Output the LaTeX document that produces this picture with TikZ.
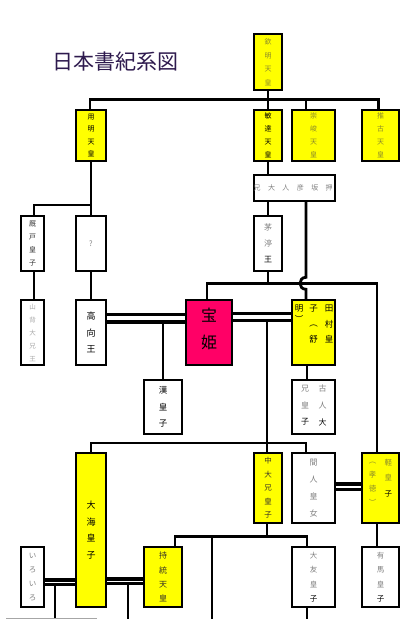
\documentclass[tikz,border=0pt]{standalone}
\usepackage{fontspec}
\setmainfont{Noto Sans CJK JP}
\usetikzlibrary{calc}
\definecolor{kiiro}{HTML}{FFFF00}
\definecolor{beni}{HTML}{FF0066}
\definecolor{tgray}{HTML}{808080}
\definecolor{tlight}{HTML}{A8A8A8}
\definecolor{tolive}{HTML}{8C8C2A}
\definecolor{ttitle}{HTML}{2E1A4E}
\newcommand{\fs}[2]{\fontsize{#1}{#2}\selectfont}
\begin{document}
\begin{tikzpicture}[x=1pt,y=-1pt,
  box/.style={draw=black, line width=1.3pt, inner sep=0pt, align=center, fill=white},
  ybox/.style={box, fill=kiiro},
  conn/.style={line width=2.8pt, draw=black},
  dbl/.style={line width=3.4pt, draw=black},
  vt/.style={inner sep=0pt, align=center}]
\useasboundingbox (0,0) rectangle (417,619);
\fill[white] (0,0) rectangle (417,619);

% title
\node[inner sep=0pt, text=ttitle, font=\fs{21}{24}] (title) at (115.5,62) {日本書紀系図};

% boxes
\node[ybox, minimum width=28pt, minimum height=56pt, text=tolive, font=\fs{7}{13.5}] (kinmei) at (268,62) {欽\\明\\天\\皇};
\node[ybox, minimum width=30pt, minimum height=51pt, font=\fs{7}{12.5}] (youmei) at (91,135.5) {用\\明\\天\\皇};
\node[ybox, minimum width=28pt, minimum height=51pt, font=\fs{7}{13}] (bidatsu) at (268,135.5) {敏\\達\\天\\皇};
\node[ybox, minimum width=43pt, minimum height=51pt, text=tolive, font=\fs{7}{13}] (sushun) at (313.5,135.5) {崇\\峻\\天\\皇};
\node[ybox, minimum width=37pt, minimum height=51pt, text=tolive, font=\fs{7}{13}] (suiko) at (380.5,135.5) {推\\古\\天\\皇};
\node[box, minimum width=81pt, minimum height=26pt] (oshisaka) at (294.5,188) {};
\node[inner sep=0pt, text=tgray, font=\fs{7}{9}] (oshisakaT) at (293.2,188) {\makebox[14.4pt]{兄}\makebox[14.4pt]{大}\makebox[14.4pt]{人}\makebox[14.4pt]{彦}\makebox[14.4pt]{坂}\makebox[14.4pt]{押}};
\node[box, minimum width=23pt, minimum height=55pt, text=black!80, font=\fs{7}{13.3}] (umayado) at (32.5,243.5) {厩\\戸\\皇\\子};
\node[box, minimum width=30pt, minimum height=55pt, text=tgray, font=\fs{7.5}{9}] (q) at (91,243.5) {?};
\node[box, minimum width=28pt, minimum height=55pt, font=\fs{8}{16}] (chinu) at (268,243.5) {\textcolor{tgray}{茅}\\\textcolor{tgray}{渟}\\王};
\node[box, minimum width=23pt, minimum height=65pt, text=tlight, font=\fs{6.5}{13}] (yamashiro) at (32.5,332.5) {山\\背\\大\\兄\\王};
\node[box, minimum width=30pt, minimum height=65pt, font=\fs{9}{16.3}] (takamuku) at (91,332.5) {高\\向\\王};
\node[box, fill=beni, minimum width=46pt, minimum height=65pt] (takara) at (209,332.5) {};
\node[vt, font=\fs{16}{27}] (takaraT) at (209,328.5) {宝\\姫};
\node[ybox, minimum width=43pt, minimum height=65pt] (tamura) at (313.5,332.5) {};
\node[vt, font=\fs{8.5}{15.3}] (tamuraR) at (329,324) {田\\村\\皇};
\node[vt, font=\fs{8.5}{15.3}] (tamuraM) at (313.5,324) {子\\︵\\舒};
\node[vt, font=\fs{8.5}{11}] (tamuraL) at (299,314) {明\\︶};
\node[box, minimum width=38pt, minimum height=54pt, font=\fs{8.5}{16.7}] (aya) at (163,407) {漢\\皇\\子};
\node[box, minimum width=43pt, minimum height=54pt] (furuhito) at (313.5,407) {};
\node[vt, font=\fs{8}{16.7}] (furuhitoR) at (322.7,405.3) {\textcolor{tgray}{古}\\\textcolor{tgray}{人}\\大};
\node[vt, font=\fs{8}{16.7}] (furuhitoL) at (305,405.3) {\textcolor{tgray}{兄}\\\textcolor{tgray}{皇}\\子};
\node[ybox, minimum width=30pt, minimum height=154pt, font=\fs{9}{16.7}] (ooama) at (91,530) {大\\海\\皇\\子};
\node[ybox, minimum width=28pt, minimum height=70pt, text=black!85!olive, font=\fs{7.5}{13.5}] (nakano) at (268,488) {中\\大\\兄\\皇\\子};
\node[box, minimum width=43pt, minimum height=70pt, text=tgray, font=\fs{8}{17}] (hashihito) at (313.5,488) {間\\人\\皇\\女};
\node[ybox, minimum width=37pt, minimum height=70pt] (karu) at (380.5,488) {};
\node[vt, text=tolive, font=\fs{7.5}{15.8}] (karuR) at (388.3,478) {軽\\皇\\\textcolor{black}{子}};
\node[vt, text=tolive, font=\fs{7.5}{14}] (karuL) at (372.7,484) {︵\\孝\\徳\\︶};
\node[box, minimum width=23pt, minimum height=60pt, text=tgray, font=\fs{7.5}{14}] (iroiro) at (32.5,577) {い\\ろ\\い\\ろ};
\node[ybox, minimum width=38pt, minimum height=60pt, text=black!85!olive, font=\fs{8}{14.2}] (jitou) at (163,577) {持\\統\\天\\皇};
\node[box, minimum width=43pt, minimum height=60pt, text=tgray, font=\fs{7.5}{14.4}] (ootomo) at (313.5,577) {大\\友\\皇\\\textcolor{black}{子}};
\node[box, minimum width=37pt, minimum height=60pt, text=tgray, font=\fs{7.5}{14.4}] (arima) at (380.5,577) {有\\馬\\皇\\\textcolor{black}{子}};

% junction coordinates
\coordinate (j1) at (268,99.5);
\coordinate (s1) at (306,99.5);
\coordinate (j2) at (91,205);
\coordinate (hp) at (306,283.3);
\coordinate (j3) at (268,283.3);
\coordinate (k1) at (377,283.3);
\coordinate (j4) at (267,443);
\coordinate (j5) at (267,536.7);
\coordinate (b1) at (212,619);
\coordinate (b2) at (307,619);
\coordinate (b3) at (55,619);
\coordinate (b4) at (128,619);

% connectors
\draw[conn] (kinmei.south) -- (j1);
\draw[conn] (youmei.north -| 90,0) |- (j1) -- (s1) -| (suiko.north -| 378.5,0);
\draw[conn] (j1) -- (bidatsu.north);
\draw[conn] (s1) -- (sushun.north -| s1);

\draw[conn] (youmei.south) -- (j2);
\draw[conn] (j2) -| (umayado.north -| 34,0);
\draw[conn] (j2) -- (q.north);
\draw[conn] (umayado.south -| 34,0) -- (yamashiro.north -| 34,0);
\draw[conn] (q.south) -- (takamuku.north);

\draw[conn] (bidatsu.south) -- (bidatsu.south |- oshisaka.north);
\draw[conn] (chinu.north |- oshisaka.south) -- (chinu.north);
\draw[conn] (oshisaka.south -| hp) -- ($(hp)+(0,-6)$) .. controls ($(hp)+(-8,-6)$) and ($(hp)+(-8,6)$) .. ($(hp)+(0,6)$) -- (tamura.north -| hp);

\draw[conn] (chinu.south) -- (j3);
\draw[conn] (takara.north -| 207,0) |- (k1) -- (karu.north -| k1);

% marriages
\draw[dbl] (takamuku.east |- 0,314.7) -- (takara.west |- 0,314.7);
\draw[dbl] (takamuku.east |- 0,322) -- (takara.west |- 0,322);
\draw[conn] (aya.north |- 0,322) -- (aya.north);
\draw[dbl] (takara.east |- 0,313.5) -- (tamura.west |- 0,313.5);
\draw[dbl] (takara.east |- 0,320.5) -- (tamura.west |- 0,320.5);
\draw[conn] (nakano.north -| j4) |- (j4 |- 0,320.5);
\draw[conn] (tamura.south -| 307,0) -- (furuhito.north -| 307,0);

\draw[conn] (ooama.north) |- (j4) -| (hashihito.north -| 306,0);

\draw[dbl] (hashihito.east |- 0,484) -- (karu.west |- 0,484);
\draw[dbl] (hashihito.east |- 0,489.5) -- (karu.west |- 0,489.5);
\draw[conn] (karu.south -| k1) -- (arima.north -| k1);

\draw[conn] (nakano.south -| j5) -- (j5);
\draw[conn] (jitou.north -| 175,0) |- (j5) -| (ootomo.north -| b2);
\draw[conn] (b1 |- j5) -- (b1);
\draw[conn] (ootomo.south -| b2) -- (b2);

\draw[dbl, line width=3.2pt] (iroiro.east |- 0,580) -- (ooama.west |- 0,580);
\draw[dbl, line width=3.2pt] (iroiro.east |- 0,584.2) -- (ooama.west |- 0,584.2);
\draw[conn] (b3 |- 0,584.2) -- (b3);
\draw[dbl, line width=3.2pt] (ooama.east |- 0,579) -- (jitou.west |- 0,579);
\draw[dbl, line width=3.2pt] (ooama.east |- 0,583.2) -- (jitou.west |- 0,583.2);
\draw[conn] (b4 |- 0,583.2) -- (b4);

% faint line at bottom edge
\coordinate (g1) at (6,618);
\coordinate (g2) at (97,618);
\draw[line width=1pt, draw=black!35] (g1) -- (g2);
\end{tikzpicture}
\end{document}
